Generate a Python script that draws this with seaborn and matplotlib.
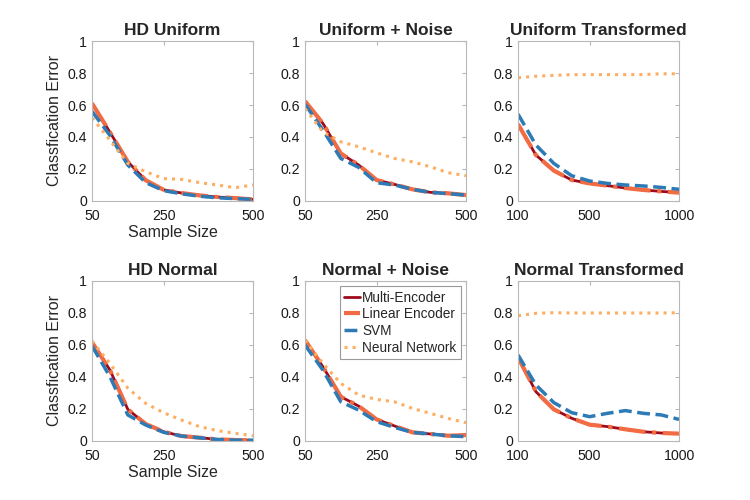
import numpy as np
import pandas as pd
import matplotlib
matplotlib.use("Agg")
import matplotlib.pyplot as plt
import seaborn as sns

sns.set_style("white")
plt.rcParams['font.family'] = ['Liberation Sans', 'DejaVu Sans']

titles = ["HD Uniform", "Uniform + Noise", "Uniform Transformed",
          "HD Normal", "Normal + Noise", "Normal Transformed"]
series_names = ["Multi-Encoder", "Linear Encoder", "SVM", "Neural Network"]

x_small = [50, 100, 150, 200, 250, 300, 350, 400, 450, 500]
x_large = [100, 200, 300, 400, 500, 600, 700, 800, 900, 1000]

# HD Uniform
hdu_multi = [0.61, 0.43, 0.245, 0.13, 0.07, 0.05, 0.035, 0.025, 0.018, 0.01]
hdu_linear = [0.61, 0.43, 0.245, 0.13, 0.07, 0.05, 0.035, 0.025, 0.018, 0.01]
hdu_svm = [0.56, 0.41, 0.225, 0.115, 0.065, 0.045, 0.03, 0.02, 0.015, 0.01]
hdu_nn = [0.52, 0.38, 0.235, 0.183, 0.14, 0.135, 0.115, 0.10, 0.083, 0.10]

# Uniform + Noise
un_multi = [0.624, 0.485, 0.297, 0.225, 0.131, 0.104, 0.073, 0.054, 0.048, 0.037]
un_linear = [0.624, 0.485, 0.297, 0.225, 0.131, 0.104, 0.073, 0.054, 0.048, 0.037]
un_svm = [0.605, 0.443, 0.266, 0.21, 0.114, 0.10, 0.073, 0.054, 0.046, 0.037]
un_nn = [0.578, 0.432, 0.37, 0.339, 0.301, 0.266, 0.245, 0.214, 0.177, 0.158]

# Uniform Transformed
ut_multi = [0.48, 0.287, 0.19, 0.131, 0.11, 0.096, 0.081, 0.069, 0.06, 0.052]
ut_linear = [0.48, 0.287, 0.19, 0.131, 0.11, 0.096, 0.081, 0.069, 0.06, 0.052]
ut_svm = [0.543, 0.35, 0.235, 0.158, 0.125, 0.11, 0.10, 0.094, 0.085, 0.073]
ut_nn = [0.77, 0.78, 0.785, 0.79, 0.79, 0.79, 0.79, 0.79, 0.795, 0.795]

# HD Normal
hdn_multi = [0.617, 0.444, 0.198, 0.106, 0.058, 0.031, 0.021, 0.01, 0.006, 0.004]
hdn_linear = [0.617, 0.444, 0.198, 0.106, 0.058, 0.031, 0.021, 0.01, 0.006, 0.004]
hdn_svm = [0.594, 0.402, 0.163, 0.10, 0.054, 0.031, 0.02, 0.01, 0.005, 0.005]
hdn_nn = [0.625, 0.485, 0.33, 0.235, 0.177, 0.131, 0.09, 0.065, 0.048, 0.033]

# Normal + Noise
nn_multi = [0.63, 0.464, 0.277, 0.218, 0.135, 0.094, 0.054, 0.044, 0.033, 0.037]
nn_linear = [0.63, 0.464, 0.277, 0.218, 0.135, 0.094, 0.054, 0.044, 0.033, 0.037]
nn_svm = [0.60, 0.443, 0.245, 0.193, 0.121, 0.085, 0.054, 0.044, 0.033, 0.027]
nn_nn = [0.63, 0.485, 0.36, 0.287, 0.26, 0.245, 0.204, 0.173, 0.141, 0.114]

# Normal Transformed
nt_multi = [0.523, 0.308, 0.198, 0.142, 0.102, 0.09, 0.073, 0.058, 0.05, 0.046]
nt_linear = [0.523, 0.308, 0.198, 0.142, 0.102, 0.09, 0.073, 0.058, 0.05, 0.046]
nt_svm = [0.538, 0.35, 0.24, 0.177, 0.152, 0.173, 0.19, 0.173, 0.163, 0.135]
nt_nn = [0.783, 0.798, 0.802, 0.80, 0.80, 0.80, 0.80, 0.80, 0.80, 0.802]

panels = [
    (x_small, [hdu_multi, hdu_linear, hdu_svm, hdu_nn], [50, 250, 500]),
    (x_small, [un_multi, un_linear, un_svm, un_nn], [50, 250, 500]),
    (x_large, [ut_multi, ut_linear, ut_svm, ut_nn], [100, 500, 1000]),
    (x_small, [hdn_multi, hdn_linear, hdn_svm, hdn_nn], [50, 250, 500]),
    (x_small, [nn_multi, nn_linear, nn_svm, nn_nn], [50, 250, 500]),
    (x_large, [nt_multi, nt_linear, nt_svm, nt_nn], [100, 500, 1000]),
]

colors = ["#9e0b1c", "#f26b43", "#2c7bb6", "#fdae61"]
styles = ["-", "-.", "--", ":"]
widths = [2.0, 3.0, 2.5, 2.2]
yticks = [0, 0.2, 0.4, 0.6, 0.8, 1.0]
ytick_labels = ["0", "0.2", "0.4", "0.6", "0.8", "1"]

fig = plt.figure(figsize=(7.5, 5), dpi=100)
lefts = [0.1227, 0.4067, 0.6907]
bottoms = [0.598, 0.118]
w, h = 0.2147, 0.32

edge = "#b8b8b8"
for i, (xs, ys, xt) in enumerate(panels):
    r, c = divmod(i, 3)
    ax = fig.add_axes([lefts[c], bottoms[r], w, h])
    for name, y, col, ls, lw in zip(series_names, ys, colors, styles, widths):
        df = pd.DataFrame({"x": xs, "y": y})
        sns.lineplot(data=df, x="x", y="y", ax=ax, color=col, linestyle=ls,
                     linewidth=lw, label=name, legend=False)
    ax.set_xlim(xs[0], xs[-1])
    ax.set_ylim(0, 1)
    ax.set_xticks(xt)
    ax.set_xticklabels([str(v) for v in xt])
    ax.set_yticks(yticks)
    ax.set_yticklabels(ytick_labels)
    ax.tick_params(direction="in", top=True, right=True, length=3,
                   color=edge, labelsize=10.2, labelcolor="#1a1a1a")
    ax.tick_params(axis="x", pad=6)
    ax.tick_params(axis="y", pad=3.5)
    for s in ax.spines.values():
        s.set_color(edge)
        s.set_linewidth(0.8)
    ax.set_title(titles[i], fontsize=12.5, fontweight="bold", pad=4)
    if c == 0:
        ax.set_ylabel("Classfication Error", fontsize=11.5, labelpad=4)
        ax.set_xlabel("Sample Size", fontsize=11.5, labelpad=1)
    else:
        ax.set_ylabel("")
        ax.set_xlabel("")
    if i == 4:
        leg = ax.legend(loc="upper right", fontsize=9.8, handlelength=1.2,
                        handletextpad=0.15, borderpad=0.3, labelspacing=0.2,
                        borderaxespad=0.4, fancybox=False, framealpha=1)
        leg.get_frame().set_edgecolor("#9a9a9a")
        leg.get_frame().set_linewidth(0.8)

fig.savefig("out.png", dpi=100)
